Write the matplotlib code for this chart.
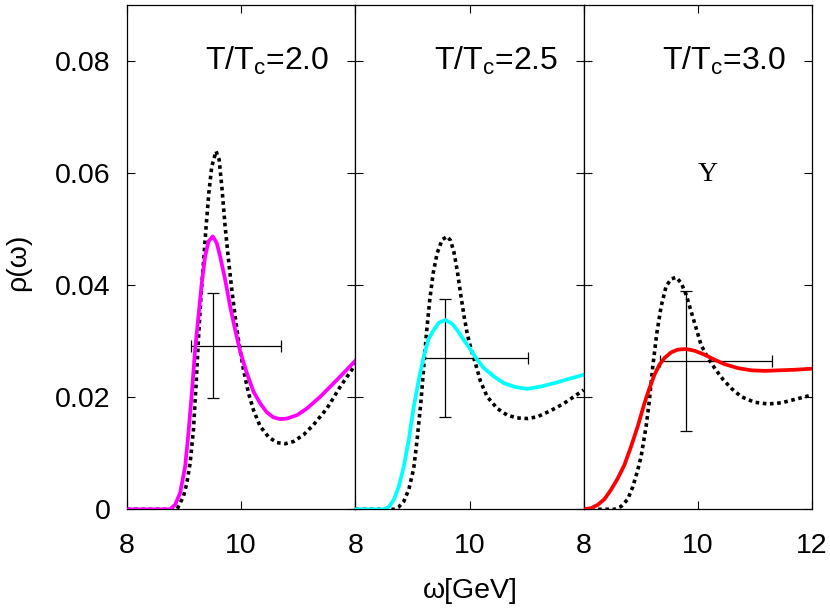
import matplotlib
matplotlib.use("Agg")
import matplotlib.pyplot as plt
from matplotlib.ticker import FuncFormatter

plt.rcParams["font.family"] = ["Liberation Sans", "DejaVu Sans"]
plt.rcParams["mathtext.fontset"] = "custom"
plt.rcParams["mathtext.rm"] = "Liberation Sans"
plt.rcParams["mathtext.it"] = "Liberation Sans:italic"

# values (omega in GeV, rho)
temps = ["2.0", "2.5", "3.0"]
colors = ["#ff00ff", "#00ffff", "#ff0000"]

x_fit1 = [8.0, 8.754, 8.842, 8.930, 9.018, 9.076, 9.135, 9.193, 9.251, 9.310, 9.368, 9.427,
          9.503, 9.573, 9.632, 9.719, 9.807, 9.895, 9.982, 10.099, 10.216, 10.333, 10.450,
          10.567, 10.684, 10.801, 10.977, 11.152, 11.386, 11.678, 12.0]
y_fit1 = [0.0, 0.0, 0.0008, 0.0029, 0.0076, 0.0136, 0.0207, 0.0285, 0.0344, 0.0404, 0.0451, 0.0478,
          0.0487, 0.0475, 0.0451, 0.0410, 0.0362, 0.0320, 0.0282, 0.0243, 0.0210, 0.0189, 0.0173,
          0.0164, 0.0161, 0.0162, 0.0168, 0.0180, 0.0201, 0.0231, 0.0265]
x_ref1 = [8.0, 8.871, 8.901, 8.988, 9.047, 9.105, 9.164, 9.211, 9.251, 9.292, 9.339, 9.386, 9.433,
          9.485, 9.561, 9.614, 9.661, 9.719, 9.778, 9.836, 9.895, 9.953, 10.041, 10.129, 10.216,
          10.333, 10.480, 10.626, 10.772, 10.918, 11.094, 11.269, 11.503, 11.737, 12.0]
y_ref1 = [0.0, 0.0, 0.0005, 0.0023, 0.0046, 0.0082, 0.0142, 0.0225, 0.0302, 0.0374, 0.0439, 0.0505,
          0.0564, 0.0612, 0.0639, 0.0624, 0.0576, 0.0505, 0.0445, 0.0392, 0.0344, 0.0302, 0.0249,
          0.0207, 0.0177, 0.0148, 0.0129, 0.0119, 0.0117, 0.0121, 0.0133, 0.0151, 0.0180, 0.0219,
          0.0258]

x_fit2 = [8.0, 8.497, 8.585, 8.673, 8.760, 8.848, 8.936, 9.023, 9.111, 9.199, 9.287, 9.374, 9.462,
          9.579, 9.696, 9.784, 9.901, 10.018, 10.135, 10.251, 10.427, 10.602, 10.807, 11.012,
          11.246, 11.480, 11.713, 12.0]
y_fit2 = [0.0, 0.0, 0.0004, 0.0017, 0.0040, 0.0076, 0.0124, 0.0183, 0.0231, 0.0273, 0.0305, 0.0320,
          0.0333, 0.0338, 0.0331, 0.0320, 0.0302, 0.0285, 0.0267, 0.0252, 0.0237, 0.0225, 0.0218,
          0.0215, 0.0219, 0.0225, 0.0232, 0.0240]
x_ref2 = [8.0, 8.673, 8.760, 8.848, 8.936, 9.023, 9.082, 9.152, 9.199, 9.246, 9.304, 9.363, 9.433,
          9.520, 9.608, 9.667, 9.725, 9.784, 9.842, 9.901, 9.959, 10.029, 10.105, 10.193, 10.310,
          10.485, 10.661, 10.836, 11.012, 11.187, 11.421, 11.655, 11.830, 12.0]
y_ref2 = [0.0, 0.0, 0.0004, 0.0014, 0.0035, 0.0073, 0.0124, 0.0195, 0.0255, 0.0314, 0.0374, 0.0421,
          0.0457, 0.0481, 0.0487, 0.0480, 0.0460, 0.0427, 0.0386, 0.0347, 0.0314, 0.0285, 0.0260,
          0.0228, 0.0201, 0.0180, 0.0168, 0.0163, 0.0162, 0.0165, 0.0176, 0.0189, 0.0201, 0.0213]

x_fit3 = [8.0, 8.129, 8.246, 8.363, 8.480, 8.596, 8.713, 8.830, 8.947, 9.064, 9.152, 9.240, 9.327,
          9.415, 9.532, 9.649, 9.795, 9.942, 10.117, 10.292, 10.468, 10.702, 10.936, 11.170,
          11.404, 11.696, 12.0]
y_fit3 = [0.0, 0.0002, 0.0008, 0.0018, 0.0035, 0.0055, 0.0079, 0.0112, 0.0148, 0.0189, 0.0216,
          0.0240, 0.0258, 0.0270, 0.0280, 0.0285, 0.0286, 0.0283, 0.0276, 0.0267, 0.0259, 0.0252,
          0.0248, 0.0247, 0.0248, 0.0249, 0.0251]
x_ref3 = [8.0, 8.538, 8.655, 8.772, 8.860, 8.947, 9.006, 9.094, 9.152, 9.211, 9.281, 9.357, 9.444,
          9.532, 9.620, 9.708, 9.795, 9.883, 9.971, 10.058, 10.146, 10.234, 10.322, 10.439, 10.585,
          10.760, 10.994, 11.228, 11.462, 11.696, 12.0]
y_ref3 = [0.0, 0.0, 0.0005, 0.0018, 0.0040, 0.0070, 0.0094, 0.0148, 0.0195, 0.0255, 0.0314, 0.0362,
          0.0398, 0.0411, 0.0414, 0.0404, 0.0383, 0.0353, 0.0323, 0.0293, 0.0276, 0.0261, 0.0248,
          0.0232, 0.0216, 0.0201, 0.0191, 0.0188, 0.0190, 0.0196, 0.0204]

# error bar points: centre and the ends of each bar
err_x = [9.515, 9.579, 9.795]
err_y = [0.0292, 0.0270, 0.0265]
err_xlo = [9.123, 9.181, 9.339]
err_xhi = [10.702, 11.029, 11.304]
err_ylo = [0.0198, 0.0165, 0.0139]
err_yhi = [0.0386, 0.0376, 0.0390]

fit_x = [x_fit1, x_fit2, x_fit3]
fit_y = [y_fit1, y_fit2, y_fit3]
ref_x = [x_ref1, x_ref2, x_ref3]
ref_y = [y_ref1, y_ref2, y_ref3]

fig, axes = plt.subplots(1, 3, figsize=(8.3, 6.12), dpi=100, sharey=True)
fig.subplots_adjust(left=127 / 830, right=812 / 830, bottom=1 - 509.3 / 612,
                    top=1 - 5 / 612, wspace=0)

for i, ax in enumerate(axes):
    ax.errorbar(err_x[i], err_y[i],
                xerr=[[err_x[i] - err_xlo[i]], [err_xhi[i] - err_x[i]]],
                yerr=[[err_y[i] - err_ylo[i]], [err_yhi[i] - err_y[i]]],
                fmt="none", ecolor="black", elinewidth=0.9, capsize=4, capthick=0.9,
                zorder=2)
    ax.plot(ref_x[i], ref_y[i], color="black", lw=2.6, linestyle=(0, (1, 1.0)), zorder=3)
    ax.plot(fit_x[i], fit_y[i], color=colors[i], lw=2.7, zorder=4,
            solid_joinstyle="round")
    ax.text(11.55, 0.08, r"T/T$_{\rm c}$=" + temps[i], ha="right", va="center",
            fontsize=23)

    ax.set_xlim(8, 12)
    ax.set_ylim(0, 0.09)
    ax.set_xticks([8, 10, 12] if i == 2 else [8, 10])
    ax.set_yticks([0, 0.02, 0.04, 0.06, 0.08])
    ax.tick_params(direction="in", length=6, width=0.8, top=True, right=True,
                   labelsize=20.5)
    ax.tick_params(axis="x", pad=17)
    ax.tick_params(axis="y", pad=12)
    for s in ax.spines.values():
        s.set_linewidth(0.9)

axes[0].yaxis.set_major_formatter(FuncFormatter(lambda v, p: "0" if v == 0 else f"{v:.2f}"))
axes[2].text(10.18, 0.0597, "\u03a5", ha="center", va="center", fontsize=20,
             family=["Liberation Serif", "DejaVu Serif"])

fig.text(18 / 830, 1 - 262 / 612, "\u03c1(\u03c9)", rotation=90, ha="center",
         va="center", fontsize=20.5)
fig.text(470 / 830, 1 - 591 / 612, "\u03c9[GeV]", ha="center", va="center", fontsize=20.5)

fig.savefig("out.png", dpi=100)
